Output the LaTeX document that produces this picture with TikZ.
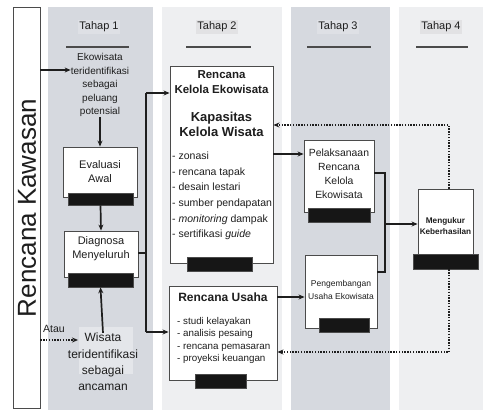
\documentclass[tikz,border=0pt]{standalone}
\usepackage{fontspec}
\setmainfont{Liberation Sans}
\usetikzlibrary{arrows.meta,calc}
\definecolor{colA}{RGB}{214,217,223}
\definecolor{colB}{RGB}{238,239,241}
\definecolor{labA}{RGB}{222,224,229}
\definecolor{labB}{RGB}{226,226,228}
\definecolor{wisbg}{RGB}{228,230,234}
\definecolor{boxline}{RGB}{75,75,75}
\definecolor{ink}{RGB}{30,30,30}
\definecolor{barfill}{RGB}{22,22,22}
\begin{document}
\begin{tikzpicture}[x=1pt,y=-1pt,
  box/.style={draw=boxline,line width=0.9pt,fill=white,inner sep=0pt},
  bar/.style={draw=boxline,line width=0.6pt,fill=barfill,inner sep=0pt},
  txt/.style={inner sep=0pt,align=center,text=ink},
  lab/.style={inner sep=1.5pt,font=\fontsize{11}{13}\selectfont,text=ink},
  uline/.style={draw=ink!80,line width=1.6pt},
  arr/.style={draw=ink,line width=1.7pt,-{Stealth[length=6pt,width=5pt]}},
  conn/.style={draw=ink,line width=1.7pt},
  dot/.style={draw=ink,line width=2pt,dash pattern=on 1.4pt off 1.4pt},
  dotarr/.style={dot,-{Stealth[length=6pt,width=5pt]}}
]
\useasboundingbox (0,0) rectangle (483,410);
\fill[white] (0,0) rectangle (483,410);
% columns
\fill[colA] (48,7) rectangle (153,410);
\fill[colB] (162,7) rectangle (282,410);
\fill[colA] (291,7) rectangle (390,410);
\fill[colB] (399,7) rectangle (483,410);
% Rencana Kawasan
\node[box,minimum width=27,minimum height=401] (kaw) at (26.5,207.5) {};
\node[txt,rotate=90,font=\fontsize{26}{28}\selectfont] (kawt) at (27,208) {Rencana Kawasan};
% headers
\node[lab,fill=labA] (h1) at (99,27) {Tahap 1};
\node[lab,fill=labB] (h2) at (217,27) {Tahap 2};
\node[lab,fill=labA] (h3) at (338,27) {Tahap 3};
\node[lab,fill=labB] (h4) at (441,27) {Tahap 4};
\draw[uline] (66,47) -- (129,47);
\draw[uline] (186,47) -- (251,47);
\draw[uline] (307,47) -- (371,47);
\draw[uline] (416,47) -- (468,47);
% Tahap 1
\node[txt,font=\fontsize{10}{13.5}\selectfont] (eko) at (100,85) {Ekowisata\\teridentifikasi\\sebagai\\peluang\\potensial};
\node[box,minimum width=74,minimum height=50] (eval) at (100,172) {};
\node[txt,font=\fontsize{11}{14}\selectfont] (evalt) at (100,172) {Evaluasi\\Awal};
\node[bar,minimum width=65,minimum height=12] (evalbar) at (100.5,199) {};
\node[box,minimum width=74,minimum height=46] (diag) at (101,254) {};
\node[txt,font=\fontsize{11}{14}\selectfont] (diagt) at (101,249) {Diagnosa\\Menyeluruh};
\node[bar,minimum width=65,minimum height=14] (diagbar) at (100.5,280) {};
\fill[wisbg] (79,327) rectangle (133,374);
\node[txt,font=\fontsize{12}{16.3}\selectfont] (wis) at (103,362) {Wisata\\teridentifikasi\\sebagai\\ancaman};
\node[txt,font=\fontsize{10.5}{12}\selectfont,anchor=west] (atau) at (43,329) {Atau};
% Tahap 2
\node[box,minimum width=103,minimum height=197] (rk) at (221.5,164.5) {};
\node[txt,font=\bfseries\fontsize{11.5}{15}\selectfont] (rkt) at (221.5,82.5) {Rencana\\Kelola Ekowisata};
\node[txt,font=\bfseries\fontsize{13}{15.5}\selectfont] (kap) at (221.5,124.5) {Kapasitas\\Kelola Wisata};
\node[txt,align=left,anchor=west,font=\fontsize{10.5}{15.6}\selectfont] (rkl) at (172,196) {- zonasi\\- rencana tapak\\- desain lestari\\- sumber pendapatan\\- \textit{monitoring} dampak\\- sertifikasi \textit{guide}};
\node[bar,minimum width=65,minimum height=14] (rkbar) at (219.5,264) {};
\node[box,minimum width=108,minimum height=94] (ru) at (223,333) {};
\node[txt,font=\bfseries\fontsize{12}{14}\selectfont] (rut) at (223,297) {Rencana Usaha};
\node[txt,align=left,anchor=west,font=\fontsize{9.8}{12.3}\selectfont] (rul) at (177,340.5) {- studi kelayakan\\- analisis pesaing\\- rencana pemasaran\\- proyeksi keuangan};
\node[bar,minimum width=51,minimum height=14] (rubar) at (220.5,381) {};
% Tahap 3
\node[box,minimum width=70,minimum height=72] (pel) at (339,176) {};
\node[txt,font=\fontsize{10.4}{14}\selectfont] (pelt) at (339,174) {Pelaksanaan\\Rencana\\Kelola\\Ekowisata};
\node[bar,minimum width=62,minimum height=14] (pelbar) at (339,215) {};
\node[box,minimum width=72,minimum height=73] (peng) at (341,291.5) {};
\node[txt,font=\fontsize{8.5}{13}\selectfont] (pengt) at (341,289.5) {Pengembangan\\Usaha Ekowisata};
\node[bar,minimum width=50,minimum height=14] (pengbar) at (344,325) {};
% Tahap 4
\node[box,minimum width=55,minimum height=68] (meng) at (445.5,223) {};
\node[txt,font=\bfseries\fontsize{8.2}{10.5}\selectfont] (mengt) at (445.5,226) {Mengukur\\Keberhasilan};
\node[bar,minimum width=65,minimum height=15] (mengbar) at (445.5,261.5) {};
% coordinates
\coordinate (j1) at (146,93);
\coordinate (j2) at (146,332);
\coordinate (j3) at (146,253);
\coordinate (k1) at (385,173);
\coordinate (k2) at (385,272);
\coordinate (k3) at (385,224);
\coordinate (d1) at (449,125);
\coordinate (d2) at (449,352);
\coordinate (wtip) at (78,340);
% connectors Tahap 1
\draw[arr] (kaw.east |- 0,70) -- (eko.west |- 0,70);
\draw[arr] (eko.south) -- (eval.north);
\draw[arr] (evalbar.south) -- (diag.north);
\draw[arr] (wis.north) -- (diagbar.south);
\draw[dotarr] (kaw.east |- wtip) -- (wtip);
\draw[conn] (diag.east |- j3) -- (j3);
\draw[conn] (j1) -- (j2);
\draw[arr] (j1) -- (rk.west |- j1);
\draw[arr] (j2) -- (ru.west |- j2);
% Tahap 2 -> 3
\draw[arr] (rk.east |- 0,154) -- (pel.west |- 0,154);
\draw[arr] (ru.east |- rut) -- (peng.west |- rut);
% Tahap 3 -> 4
\draw[conn] (pel.east |- k1) -- (k1) -- (k2) -- (peng.east |- k2);
\draw[arr] (k3) -- (meng.west |- k3);
% feedback
\draw[dotarr] (meng.north -| d1) -- (d1) -- (rk.east |- d1);
\draw[dotarr] (mengbar.south -| d2) -- (d2) -- (ru.east |- d2);
\end{tikzpicture}
\end{document}
